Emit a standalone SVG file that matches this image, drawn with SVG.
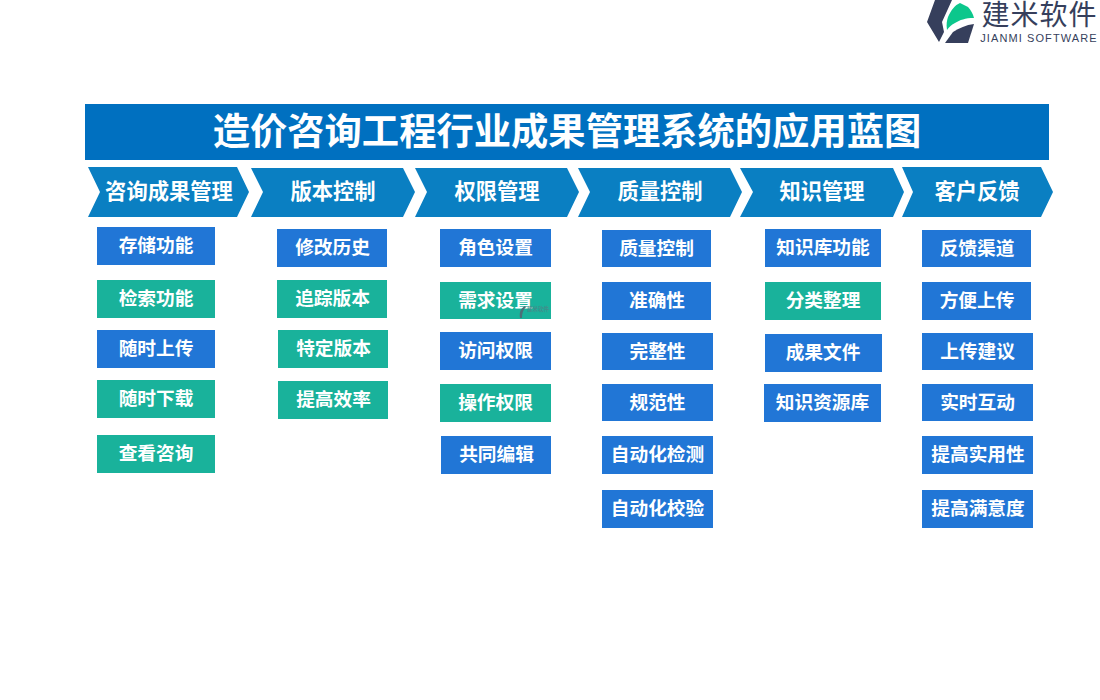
<svg xmlns="http://www.w3.org/2000/svg" width="1100" height="700" viewBox="0 0 1100 700">
<style>
text{font-family:"Noto Sans CJK SC","Liberation Sans",sans-serif;text-anchor:middle}
.t{fill:#fff;font-weight:700;font-size:18.7px}
.h{fill:#fff;font-weight:700;font-size:21.3px}
.c{fill:#0a7fc2}
.b{fill:#2176d6}
.g{fill:#19b29b}
.d{fill:#363f5c}
</style>
<rect width="1100" height="700" fill="#fff"/>
<g id="logo">
<path class="d" d="M935 0L952 0L942 22L944 32L939 42L927 22Z"/>
<path d="M947 30C946 24 947 20 948 17C951 10 955 5 960 3L968 7C971 10 973 14 974 18C965 18 960 20 955 23C951 25 949 27 947 30Z" fill="#0cc78c"/>
<path class="d" d="M974 24L968 43L945 43L953 32C959 28 966 25 974 24Z"/>
<text x="1039.500" y="25" font-size="28" fill="#363f5c" style="letter-spacing:1px">建米软件</text>
<text x="1039" y="42" font-size="11" fill="#363f5c" style="font-family:'Liberation Sans',sans-serif;letter-spacing:1.1px">JIANMI SOFTWARE</text>
</g>
<g id="title">
<rect x="85" y="104" width="964" height="56" fill="#0070c0"/>
<text x="567" y="145" font-size="37.300" font-weight="700" fill="#fff">造价咨询工程行业成果管理系统的应用蓝图</text>
</g>
<g id="h1"><polygon class="c" points="88,167 237,167 249,192 237,217 88,217 100,192"/><text class="h" x="169" y="199">咨询成果管理</text></g>
<g id="h2"><polygon class="c" points="251,168 403,168 415,192 403,217 251,217 263,192"/><text class="h" x="333" y="199">版本控制</text></g>
<g id="h3"><polygon class="c" points="415,168 567,168 579,192 567,217 415,217 427,192"/><text class="h" x="497" y="199">权限管理</text></g>
<g id="h4"><polygon class="c" points="578,168 730,168 742,192 730,217 578,217 590,192"/><text class="h" x="660" y="199">质量控制</text></g>
<g id="h5"><polygon class="c" points="740,168 893,168 904,192 893,217 740,217 753,192"/><text class="h" x="822" y="199">知识管理</text></g>
<g id="h6"><polygon class="c" points="902,167 1041,167 1053,192 1041,217 902,217 913,192"/><text class="h" x="977" y="199">客户反馈</text></g>

<g id="n1"><rect class="b" x="97" y="227" width="118" height="38"/><text class="t" x="156" y="252">存储功能</text></g>
<g id="n2"><rect class="g" x="97" y="280" width="118" height="38"/><text class="t" x="156" y="305">检索功能</text></g>
<g id="n3"><rect class="b" x="97" y="330" width="118" height="38"/><text class="t" x="156" y="355">随时上传</text></g>
<g id="n4"><rect class="g" x="97" y="380" width="118" height="38"/><text class="t" x="156" y="405">随时下载</text></g>
<g id="n5"><rect class="g" x="97" y="435" width="118" height="38"/><text class="t" x="156" y="460">查看咨询</text></g>

<g id="n6"><rect class="b" x="277" y="229" width="110" height="38"/><text class="t" x="332.500" y="254">修改历史</text></g>
<g id="n7"><rect class="g" x="277" y="280" width="110" height="38"/><text class="t" x="332.500" y="305">追踪版本</text></g>
<g id="n8"><rect class="g" x="278" y="330" width="110" height="38"/><text class="t" x="333.500" y="355">特定版本</text></g>
<g id="n9"><rect class="g" x="278" y="381" width="110" height="38"/><text class="t" x="333.500" y="406">提高效率</text></g>

<g id="n10"><rect class="b" x="440" y="229" width="111" height="38"/><text class="t" x="495.500" y="254">角色设置</text></g>
<g id="n11"><rect class="g" x="440" y="282" width="111" height="37"/><text class="t" x="495.500" y="307">需求设置</text>
<path d="M520 318C519 312 521 308 525 306L526 307C523 310 522 313 522 318Z" fill="#4b6f78"/><text x="538" y="311" font-size="5.500" font-weight="700" fill="#3f8f8c">建米软件</text></g>
<g id="n12"><rect class="b" x="440" y="332" width="111" height="38"/><text class="t" x="495.500" y="357">访问权限</text></g>
<g id="n13"><rect class="g" x="440" y="384" width="111" height="38"/><text class="t" x="495.500" y="409">操作权限</text></g>
<g id="n14"><rect class="b" x="441" y="436" width="110" height="38"/><text class="t" x="496.500" y="461">共同编辑</text></g>

<g id="n15"><rect class="b" x="602" y="230" width="109" height="37"/><text class="t" x="656.500" y="254.500">质量控制</text></g>
<g id="n16"><rect class="b" x="602" y="282" width="109" height="38"/><text class="t" x="657" y="307">准确性</text></g>
<g id="n17"><rect class="b" x="602" y="333" width="111" height="37"/><text class="t" x="657.500" y="358">完整性</text></g>
<g id="n18"><rect class="b" x="602" y="384" width="111" height="37"/><text class="t" x="657.500" y="409">规范性</text></g>
<g id="n19"><rect class="b" x="602" y="436" width="111" height="38"/><text class="t" x="657.500" y="461">自动化检测</text></g>
<g id="n20"><rect class="b" x="602" y="490" width="111" height="38"/><text class="t" x="657.500" y="515">自动化校验</text></g>

<g id="n21"><rect class="b" x="765" y="229" width="116" height="38"/><text class="t" x="823" y="254">知识库功能</text></g>
<g id="n22"><rect class="g" x="765" y="282" width="116" height="38"/><text class="t" x="823" y="307">分类整理</text></g>
<g id="n23"><rect class="b" x="765" y="334" width="117" height="38"/><text class="t" x="823" y="359">成果文件</text></g>
<g id="n24"><rect class="b" x="764" y="384" width="117" height="38"/><text class="t" x="822.500" y="409">知识资源库</text></g>

<g id="n25"><rect class="b" x="922" y="230" width="109" height="37"/><text class="t" x="977" y="255">反馈渠道</text></g>
<g id="n26"><rect class="b" x="922" y="282" width="109" height="38"/><text class="t" x="977" y="307">方便上传</text></g>
<g id="n27"><rect class="b" x="922" y="333" width="111" height="37"/><text class="t" x="977.500" y="358">上传建议</text></g>
<g id="n28"><rect class="b" x="922" y="384" width="111" height="37"/><text class="t" x="977.500" y="409">实时互动</text></g>
<g id="n29"><rect class="b" x="922" y="436" width="111" height="38"/><text class="t" x="978" y="461">提高实用性</text></g>
<g id="n30"><rect class="b" x="922" y="490" width="111" height="38"/><text class="t" x="978" y="515">提高满意度</text></g>
<g id="connectors"/>
</svg>
